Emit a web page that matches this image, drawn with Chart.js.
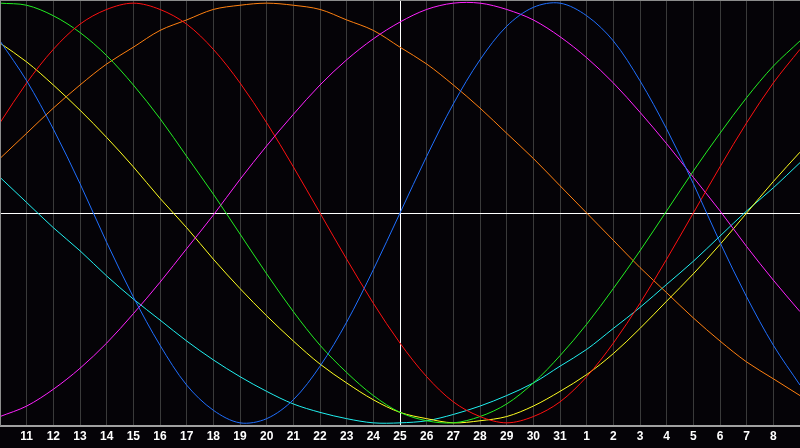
<!DOCTYPE html>
<html>
<head>
<meta charset="utf-8">
<script src="https://cdn.jsdelivr.net/npm/chart.js@4.4.1/dist/chart.umd.min.js"></script>
<style>
html,body{margin:0;padding:0;background:#050307;}
#wrap{width:800px;height:448px;position:relative;}
</style>
</head>
<body>
<div id="wrap"><canvas id="c" width="800" height="448"></canvas></div>
<script>
// Day labels (10th of the month through the 9th of the next month)
const dayLabels = ['10','11','12','13','14','15','16','17','18','19','20','21','22','23','24','25','26','27','28','29','30','31','1','2','3','4','5','6','7','8','9'];
const todayIndex = 15; // day 25

// Biorhythm values in percent, one per day
const physical     = [82,63,40,14,-14,-40,-63,-82,-94,-100,-98,-89,-73,-52,-27,0,27,52,73,89,98,100,94,82,63,40,14,-14,-40,-63,-82];
const emotional    = [43,62,78,90,97,100,97,90,78,62,43,22,0,-22,-43,-62,-78,-90,-97,-100,-97,-90,-78,-62,-43,-22,0,22,43,62,78];
const intellectual = [100,99,94,86,75,61,45,27,9,-10,-29,-47,-63,-76,-87,-95,-99,-100,-97,-91,-81,-68,-53,-36,-18,1,20,38,55,70,82];
const intuitive    = [-97,-92,-84,-74,-62,-48,-33,-17,-1,16,32,47,61,73,83,91,97,100,100,97,92,84,74,62,48,33,17,1,-16,-32,-47];
const aesthetic    = [81,72,61,49,36,22,7,-7,-22,-36,-49,-61,-72,-81,-89,-95,-98,-100,-99,-97,-92,-85,-77,-67,-55,-42,-29,-15,0,15,29];
const awareness    = [26,38,50,61,71,79,87,92,97,99,100,99,97,92,87,79,71,61,50,38,26,13,0,-13,-26,-38,-50,-61,-71,-79,-87];
const spiritual    = [17,5,-7,-18,-30,-41,-51,-61,-70,-78,-85,-91,-95,-98,-100,-100,-99,-96,-92,-87,-81,-73,-65,-55,-45,-34,-23,-11,1,12,24];

const seriesList = [
  {name:'Physical', data:physical, color:'#1f6fff'},
  {name:'Emotional', data:emotional, color:'#ff1010'},
  {name:'Intellectual', data:intellectual, color:'#22ee22'},
  {name:'Intuitive', data:intuitive, color:'#ff22ff'},
  {name:'Aesthetic', data:aesthetic, color:'#ffff20'},
  {name:'Awareness', data:awareness, color:'#ff8010'},
  {name:'Spiritual', data:spiritual, color:'#20f0f0'}
];

const framePlugin = {
  id:'frame',
  beforeDraw(chart){
    const ctx = chart.ctx;
    ctx.save();
    ctx.fillStyle = '#050307';
    ctx.fillRect(0,0,chart.width,chart.height);
    ctx.restore();
  },
  afterDraw(chart){
    const ctx = chart.ctx, a = chart.chartArea;
    ctx.save();
    ctx.strokeStyle = '#8c8c8c';
    ctx.lineWidth = 1;
    ctx.beginPath();
    ctx.moveTo(0, 0.5); ctx.lineTo(chart.width, 0.5);
    ctx.moveTo(0.5, 0); ctx.lineTo(0.5, a.bottom);
    ctx.stroke();
    ctx.restore();
  }
};

new Chart(document.getElementById('c'), {
  type:'line',
  data:{
    labels: dayLabels,
    datasets: seriesList.map(s => ({
      label: s.name,
      data: s.data,
      borderColor: s.color,
      borderWidth: 1,
      pointRadius: 0,
      pointHoverRadius: 0,
      fill: false,
      tension: 0.33
    }))
  },
  options:{
    responsive:false,
    animation:false,
    devicePixelRatio:1,
    layout:{autoPadding:false,padding:{left:0,right:0,top:0,bottom:0}},
    plugins:{legend:{display:false}, tooltip:{enabled:false}},
    scales:{
      x:{
        type:'category',
        offset:false,
        afterFit:(s)=>{ s.paddingLeft = 0; s.paddingRight = 0; },
        grid:{
          drawTicks:false,
          color:(c)=> c.index === todayIndex ? '#ffffff' : ((c.index===0||c.index===dayLabels.length-1)?'rgba(0,0,0,0)':'#3a3a3a'),
          lineWidth:1
        },
        border:{display:true,color:'#a0a0a0',width:2},
        ticks:{
          color:'#ffffff',
          font:{family:'"Liberation Sans", Arial, sans-serif',size:12,weight:'bold',lineHeight:1.0},
          padding:5,
          autoSkip:false,
          maxRotation:0,
          callback:(v,i)=> (i===0||i===dayLabels.length-1) ? '' : dayLabels[i]
        }
      },
      y:{
        min:-101.5,
        max:101.5,
        afterBuildTicks:(scale)=>{ scale.ticks = [{value:0}]; },
        grid:{drawTicks:false,color:'#ffffff',lineWidth:1},
        border:{display:false},
        ticks:{display:false}
      }
    }
  },
  plugins:[framePlugin]
});
</script>
</body>
</html>
